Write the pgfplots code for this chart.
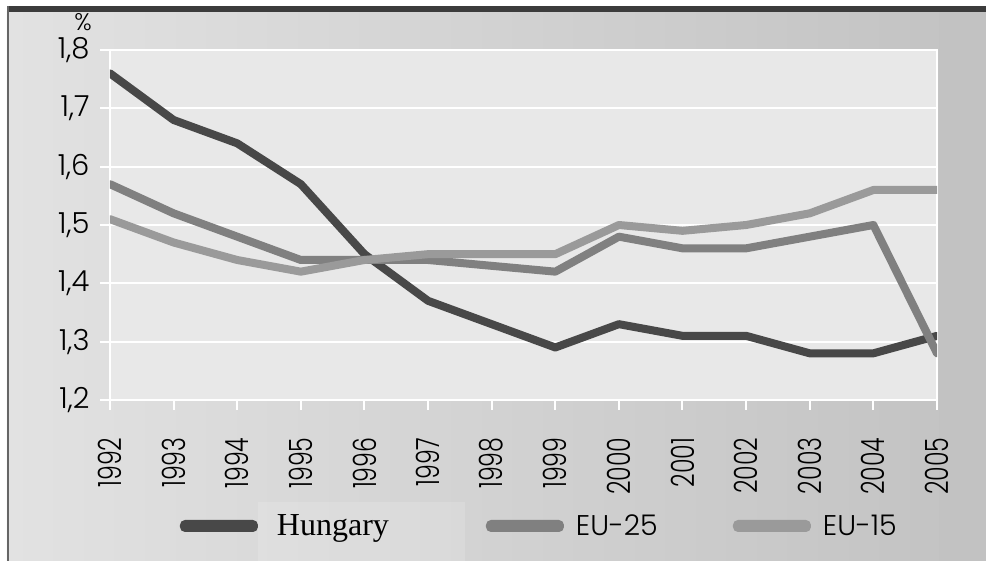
\documentclass[border=0pt]{standalone}
\usepackage{fontspec}
\setmainfont{Poppins}[UprightFont=* Light]
\newfontfamily\yearfont{Poppins}[UprightFont=* Light, FakeStretch=0.74]
\newfontfamily\serifleg{Liberation Serif}
\usepackage{pgfplots}
\usepackage{pgfplotstable}
\pgfplotsset{compat=1.18}

\definecolor{hun}{HTML}{484848}
\definecolor{eutf}{HTML}{808080}
\definecolor{euff}{HTML}{9A9A9A}
\definecolor{plotbg}{HTML}{E8E8E8}
\definecolor{bgleft}{HTML}{E2E2E2}
\definecolor{bgright}{HTML}{C2C2C2}
\definecolor{topbar}{HTML}{3C3C3C}

% Total fertility rate, 1992-2005
\pgfplotstableread{
year hun  eu25 eu15
1992 1.76 1.57 1.51
1993 1.68 1.52 1.47
1994 1.64 1.48 1.44
1995 1.57 1.44 1.42
1996 1.45 1.44 1.44
1997 1.37 1.44 1.45
1998 1.33 1.43 1.45
1999 1.29 1.42 1.45
2000 1.33 1.48 1.50
2001 1.31 1.46 1.49
2002 1.31 1.46 1.50
2003 1.28 1.48 1.52
2004 1.28 1.50 1.56
2005 1.31 1.28 1.56
}\fertility

\begin{document}
\begin{tikzpicture}[x=1pt,y=1pt]
  % page frame and shaded panel
  \useasboundingbox (-110,-161) rectangle (876,400);
  \fill[white] (-110,-161) rectangle (876,400);
  \shade[left color=bgleft, right color=bgright] (-103,-161) rectangle (876,388);
  \fill[bgright] (829,-161) rectangle (876,388);
  \fill[white, opacity=0.15] (148,-161) rectangle (355,-102);
  \fill[topbar] (-103,388) rectangle (876,394);
  \fill[black!60] (-103,-161) rectangle (-101,394);

  \begin{axis}[
    at={(0,0)}, anchor=south west,
    scale only axis, width=827pt, height=350pt,
    xmin=1992, xmax=2005, ymin=1.2, ymax=1.8,
    axis background/.style={fill=plotbg},
    axis line style={white, line width=2pt},
    xtick={1992,...,2005},
    ytick={1.2,1.3,...,1.8},
    tick pos=left, tick align=outside,
    major tick length=10pt,
    tick style={white, line width=2pt},
    ymajorgrids,
    grid style={white, line width=2pt},
    /pgf/number format/assume math mode=true,
    yticklabel style={
      font=\fontsize{29}{32}\selectfont, xshift=-7pt,
      /pgf/number format/.cd, fixed, fixed zerofill, precision=1, use comma},
    xticklabel style={
      font=\yearfont\fontsize{32}{36}\selectfont,
      rotate=90, anchor=east, xshift=-24pt,
      /pgf/number format/.cd, 1000 sep={}},
    legend columns=3,
    legend cell align=left,
    legend style={
      at={(axis description cs:0.0846,-0.36)}, anchor=west,
      draw=none, fill=none, inner sep=0pt, outer sep=0pt,
      nodes={inner sep=0pt, outer sep=0pt},
      /tikz/every odd column/.append style={column sep=12pt},
      /tikz/every even column/.append style={column sep=0pt}},
    legend image code/.code={
      \fill[#1, draw=none, line width=0pt, rounded corners=5pt] (0pt,-6pt) rectangle (78pt,6pt);},
    every axis plot/.append style={line width=8pt, line join=round, line cap=round},
    extra description/.code={
      \node[font=\fontsize{24}{28}\selectfont] at (axis description cs:-0.0326,1.08) {\%};},
  ]
    \addplot[hun] table[x=year, y=hun] {\fertility};
    \addlegendentry{\hspace*{7pt}\makebox[209pt][l]{\serifleg\fontsize{32}{36}\selectfont Hungary}}
    \addplot[eutf] table[x=year, y=eu25] {\fertility};
    \addlegendentry{\makebox[157pt][l]{\fontsize{28.5}{32}\selectfont EU-25}}
    \addplot[euff] table[x=year, y=eu15] {\fertility};
    \addlegendentry{\fontsize{28.5}{32}\selectfont EU-15}
  \end{axis}
\end{tikzpicture}
\end{document}
